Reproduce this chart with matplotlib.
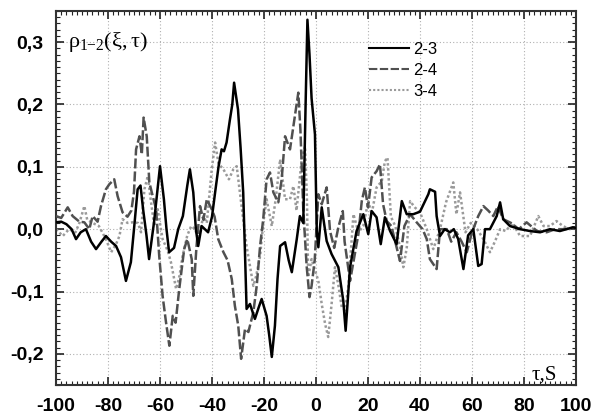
import matplotlib
matplotlib.use("Agg")
import matplotlib.pyplot as plt
from matplotlib.ticker import MultipleLocator, FixedLocator, FixedFormatter

# ---------------- data ----------------
x_23 = [-100, -98, -96, -94, -92.3, -90.5, -88.5, -86.5, -84.6, -82.5, -80.8, -78.8, -76.9, -75, -73.1,
        -71.2, -70, -68.6, -67.5, -66.5, -65.2, -64.2, -62.3, -60, -58.5, -57.5, -56.5, -54.6, -53, -51.2,
        -49.5, -48.5, -47.2, -46.2, -45.3, -44, -41.5, -40, -38.8, -37.5, -36.3, -35.4, -34.4, -33.1, -32.2,
        -31.5, -30, -29, -28, -27.3, -26.7, -25.4, -23.5, -22, -20.9, -19, -18, -17, -15.8, -14.8, -13.8,
        -11.9, -10.5, -9.3, -7.4, -6.2, -4.9, -4, -3.3, -2.5, -1.7, -0.4, 0.3, 0.9, 2.2, 4.1, 6, 8.6, 10.5,
        11.4, 13.1, 15.6, 18.2, 20.1, 21.4, 23.3, 24.9, 26.5, 28.5, 31, 33, 34.9, 37.4, 40, 43.2, 43.8, 45.8,
        46.4, 47.7, 49.5, 51.5, 53, 54.7, 56.7, 58.5, 60.5, 62.4, 63.7, 65, 66.9, 69.5, 70.8, 72, 74.6, 78.5,
        82.3, 86.2, 90, 93.8, 98.8, 100]
y_23 = [0.011, 0.012, 0.008, 0.0, -0.016, -0.005, 0.0, -0.02, -0.032, -0.02, -0.011, -0.02, -0.027, -0.045, -0.083,
        -0.053, 0.0, 0.064, 0.07, 0.032, -0.01, -0.048, 0.011, 0.101, 0.048, 0.0, -0.037, -0.03, 0.0, 0.021,
        0.07, 0.096, 0.059, 0.0, -0.027, 0.005, -0.005, 0.02, 0.059, 0.1, 0.128, 0.125, 0.139, 0.176, 0.2,
        0.235, 0.192, 0.13, 0.059, -0.04, -0.128, -0.12, -0.144, -0.125, -0.112, -0.139, -0.17, -0.205, -0.155, -0.08, -0.027,
        -0.021, -0.05, -0.069, -0.016, 0.021, 0.01, 0.2, 0.336, 0.28, 0.21, 0.152, -0.003, -0.029, 0.035, -0.019, -0.04, -0.061, -0.115,
        -0.163, -0.061, -0.003, 0.024, -0.008, 0.029, 0.019, -0.024, 0.019, -0.003, -0.024, 0.045, 0.024, 0.024, 0.028, 0.056, 0.064, 0.06,
        0.021, -0.011, 0.0, -0.005, 0.0, -0.016, -0.064, -0.01, 0.0, -0.059, -0.056, 0.0, 0.0, 0.021, 0.043, 0.016, 0.005, 0.0,
        -0.003, -0.005, 0.0, -0.003, 0.003, 0.002]

x_24 = [-100, -98, -95.5, -93.6, -91, -89.1, -87.2, -85.9, -84, -82.7, -80.8, -79.5, -77.6, -76.3, -74.4,
        -72.5, -71, -70, -69.2, -67.9, -67, -66.3, -65.1, -64.1, -62.8, -61.5, -60.3, -59, -57.7, -56.4,
        -55.1, -54, -52.6, -50.7, -49.5, -47.8, -47.2, -46, -44.6, -43.3, -42, -40.1, -39, -37.6, -35.6,
        -34, -32.4, -31.2, -29.9, -28.8, -27.3, -26, -24.1, -22.8, -21.5, -20.3, -19, -17.7, -16.4, -14.5,
        -13.2, -11.9, -10, -8.7, -6.8, -6, -4.9, -3.6, -2.5, -1.7, -0.5, 0.9, 2.2, 4.1, 5.4, 7, 8.6, 10.3,
        11, 13.1, 14.5, 16.3, 17.6, 18.8, 20, 21.4, 23.3, 24.6, 25.8, 27.2, 29, 31, 32.3, 34, 36.2, 38.5,
        41, 42.6, 43.8, 46.4, 47.7, 50.3, 52, 54, 56, 58, 60, 62.4, 64.4, 66.2, 68.2, 70, 72, 75, 78, 81,
        85, 88.7, 92, 96, 100]
y_24 = [0.021, 0.018, 0.035, 0.021, 0.012, 0.011, 0.0, 0.021, 0.012, 0.037, 0.064, 0.072, 0.08, 0.053, 0.027,
        0.02, 0.03, 0.06, 0.128, 0.149, 0.12, 0.179, 0.149, 0.075, 0.053, 0.032, -0.043, -0.107, -0.149, -0.187,
        -0.139, -0.15, -0.096, -0.032, -0.016, -0.048, -0.107, -0.03, 0.037, 0.015, 0.048, 0.032, 0.02, -0.016, -0.037,
        -0.05, -0.08, -0.123, -0.155, -0.208, -0.16, -0.165, -0.133, -0.091, -0.027, 0.016, 0.08, 0.091, 0.059, 0.043,
        0.08, 0.149, 0.128, 0.165, 0.219, 0.16, 0.032, -0.059, -0.109, -0.091, -0.05, 0.056, 0.04, 0.067, -0.003, -0.03, 0.003, 0.029,
        -0.02, -0.083, -0.05, -0.008, 0.045, 0.067, 0.035, 0.083, 0.093, 0.104, 0.04, 0.013, 0.005, -0.029, -0.051, 0.005, 0.024, 0.012,
        0.0, -0.016, -0.048, -0.064, 0.0, 0.0, -0.02, -0.005, -0.02, -0.037, -0.005, 0.021, 0.037, 0.03, 0.021, 0.037, 0.016, 0.01, 0.0, 0.011,
        -0.003, -0.005, 0.0, 0.0, 0.003]

x_34 = [-100, -97.4, -95, -92.5, -91, -89.1, -88, -85.9, -83.5, -80.8, -78.8, -77, -75.6, -74.4, -72.5,
        -70.5, -68.5, -67.3, -66, -64.7, -63.5, -62.2, -60.9, -59, -57, -55.8, -53.8, -52.5, -51.3, -49.5,
        -48, -46.5, -45.3, -43.3, -42, -40.1, -38.8, -37.5, -35.6, -33.5, -31.8, -30.5, -29.3, -28, -26.7,
        -25.4, -24.1, -23, -21.5, -20.3, -19, -17, -15.5, -13.8, -11.9, -10, -8.7, -7.5, -5.5, -4.2, -3.5,
        -3, -1.7, 0.9, 2.2, 3.5, 4.7, 6, 7.3, 8.6, 9.9, 11.2, 12.5, 14.4, 16.3, 18.2, 20.1, 21.4, 23.3, 25.3,
        26.5, 27.5, 28.8, 30.5, 32.3, 33.6, 34.9, 36.2, 38, 40, 42.6, 45.1, 47.7, 50, 52.8, 54, 55.4, 57.5,
        59.5, 62, 64.4, 66.9, 68.8, 70.8, 73, 75.5, 78.5, 82.3, 85.5, 87.5, 90, 92.5, 95, 97.5, 100]
y_34 = [0.0, -0.011, 0.0, -0.005, 0.01, 0.037, 0.015, 0.01, 0.005, -0.016, -0.037, -0.025, -0.011, 0.016, 0.01,
        0.011, 0.01, -0.005, 0.064, 0.085, 0.045, 0.005, 0.032, -0.016, -0.035, -0.053, -0.096, -0.075, -0.043, -0.01,
        0.005, 0.0, -0.016, 0.021, 0.01, 0.096, 0.139, 0.105, 0.096, 0.08, 0.096, 0.101, 0.06, 0.016, -0.027,
        -0.059, -0.091, -0.075, -0.043, 0.01, 0.048, 0.005, 0.048, 0.112, 0.048, 0.048, 0.069, 0.03, 0.112, 0.133, 0.05,
        -0.077, -0.048, -0.083, -0.12, -0.152, -0.173, -0.12, -0.061, -0.09, -0.125, -0.13, -0.09, 0.024, -0.005, 0.005, 0.045, 0.024, 0.067, 0.077,
        0.109, 0.115, 0.02, 0.005, -0.029, -0.061, -0.03, 0.045, 0.035, 0.027, 0.0, -0.032, 0.0, 0.043, 0.075, 0.024, 0.059, -0.005,
        0.01, 0.0, -0.016, -0.037, -0.02, 0.0, -0.003, 0.01, -0.011, -0.011, 0.021, 0.005, 0.005, 0.013, 0.005, 0.0, 0.003]

labels = ["2-3", "2-4", "3-4"]
xticks = [-100, -80, -60, -40, -20, 0, 20, 40, 60, 80, 100]
xtick_labels = ["-100", "-80", "-60", "-40", "-20", "0", "20", "40", "60", "80", "100"]
yticks = [-0.2, -0.1, 0.0, 0.1, 0.2, 0.3]
ytick_labels = ["-0,2", "-0,1", "0,0", "0,1", "0,2", "0,3"]

# ---------------- plot ----------------
plt.rcParams["font.family"] = ["Liberation Sans", "DejaVu Sans"]
plt.rcParams["mathtext.fontset"] = "custom"
plt.rcParams["mathtext.rm"] = "Liberation Serif"
plt.rcParams["mathtext.it"] = "Liberation Serif"

fig = plt.figure(figsize=(5.94, 4.19), dpi=100)
ax = fig.add_axes([56 / 594, 34 / 419, 520 / 594, 374 / 419])

ax.plot(x_34, y_34, color="#9a9a9a", lw=1.8, ls=(0, (1, 1.0)), label=labels[2], zorder=2)
ax.plot(x_24, y_24, color="#505050", lw=1.8, ls=(0, (4, 1.2)), label=labels[1], zorder=3)
ax.plot(x_23, y_23, color="#000000", lw=1.8, ls="-", label=labels[0], zorder=4)

ax.set_xlim(-100, 100)
ax.set_ylim(-0.25, 0.35)

ax.xaxis.set_major_locator(FixedLocator(xticks))
ax.xaxis.set_major_formatter(FixedFormatter(xtick_labels))
ax.yaxis.set_major_locator(FixedLocator(yticks))
ax.yaxis.set_major_formatter(FixedFormatter(ytick_labels))
ax.xaxis.set_minor_locator(MultipleLocator(2))
ax.yaxis.set_minor_locator(MultipleLocator(0.01))

ax.tick_params(which="both", direction="in", top=True, right=True, color="#222222")
ax.tick_params(which="major", length=6, width=1.2)
ax.tick_params(which="minor", length=3, width=0.8)
ax.tick_params(axis="x", which="major", pad=9, labelsize=14)
ax.tick_params(axis="y", which="major", pad=9, labelsize=14)
for lab in ax.get_xticklabels() + ax.get_yticklabels():
    lab.set_fontweight("bold")

ax.grid(True, which="major", color="#b0b0b0", ls=(0, (1, 2)), lw=0.8)
for s in ax.spines.values():
    s.set_linewidth(1.5)
    s.set_color("#333333")

h, l = ax.get_legend_handles_labels()
order = [2, 1, 0]
leg = ax.legend([h[i] for i in order], [l[i] for i in order], loc="upper left",
                bbox_to_anchor=(369 / 594, 1 - 42 / 419), bbox_transform=fig.transFigure,
                frameon=False, fontsize=12, handlelength=2.4, handletextpad=0.25,
                labelspacing=0.35, borderpad=0, borderaxespad=0)
for line in leg.get_lines():
    line.set_linewidth(1.5)

fig.text(68 / 594, 1 - 47 / 419, "$\u03c1_{1{\u2212}2}(\u03be,\u03c4)$", fontsize=16, ha="left", va="baseline")
fig.text(532 / 594, 1 - 380 / 419, "\u03c4,S", fontsize=15, family="Liberation Serif", ha="left", va="baseline")

fig.savefig("out.png", dpi=100)
